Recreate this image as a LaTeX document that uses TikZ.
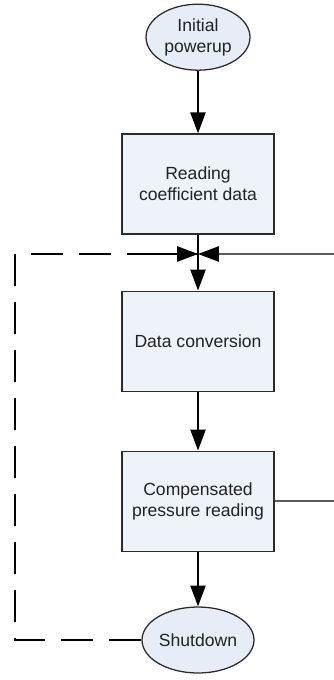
\documentclass[tikz,border=0pt]{standalone}
\usepackage{fontspec}
\setmainfont{Liberation Sans}
\usepackage{tikz}
\usetikzlibrary{arrows.meta,positioning,calc,shapes.geometric}
\definecolor{ink}{HTML}{222222}
\definecolor{edge}{HTML}{2B2B2B}
\definecolor{boxfill}{HTML}{EEF2F9}
\definecolor{ovalfill}{HTML}{E7EDF7}
\definecolor{feedback}{HTML}{5A5A5A}

\tikzset{
  stage/.style={
    rectangle,
    fill=boxfill,
    draw=edge,
    line width=1pt,
    text=ink,
    minimum width=3.8cm,
    minimum height=2.5cm,
    align=center,
    font=\fontsize{12.5}{15}\selectfont
  },
  terminal/.style={
    ellipse,
    fill=ovalfill,
    draw=edge,
    line width=0.9pt,
    text=ink,
    inner sep=0pt,
    align=center,
    font=\fontsize{12.5}{15}\selectfont
  },
  flow/.style={-{Triangle[length=0.52cm,width=0.38cm,color=black]}, line width=1pt, draw=black},
  loopback/.style={line width=1.2pt, dash pattern=on 0.8cm off 0.4cm, draw=black}
}

\begin{document}
\begin{tikzpicture}
    \useasboundingbox (0,0) rectangle (8.35,-17);

    \node[terminal, minimum width=2.6cm, minimum height=1.65cm] (init) at (4.95,-0.93) {Initial\\powerup};
    \node[stage] (readcoef) at (4.95,-4.6) {Reading\\coefficient data};
    \coordinate (merge) at (4.95,-6.35);
    \node[stage] (convert) at (4.95,-8.53) {Data conversion};
    \node[stage] (pressure) at (4.95,-12.53) {Compensated\\pressure reading};
    \node[terminal, minimum width=2.8cm, minimum height=1.65cm] (shutdown) at (4.95,-16.0) {Shutdown};

    \coordinate (leftrail) at (0.375,0);
    \coordinate (rightrail) at (8.35,0);

    % main sequence
    \draw[flow] (init) -- (readcoef);
    \draw[line width=1pt] (readcoef) -- (merge);
    \draw[flow] (merge) -- (convert);
    \draw[flow] (convert) -- (pressure);
    \draw[flow] (pressure) -- (shutdown);

    % loop back paths
    \draw[loopback] (shutdown.west) -- (shutdown.west -| leftrail) |- (merge);
    \draw[flow, dash pattern=on 0.8cm off 0.4cm, line width=1.2pt] ($(merge)+(-1.2,0)$) -- (merge);
    \draw[line width=1.1pt, draw=feedback] (pressure.east) -- (pressure.east -| rightrail);
    \draw[flow, draw=feedback, line width=1.1pt] (merge -| rightrail) -- (merge);
\end{tikzpicture}
\end{document}
